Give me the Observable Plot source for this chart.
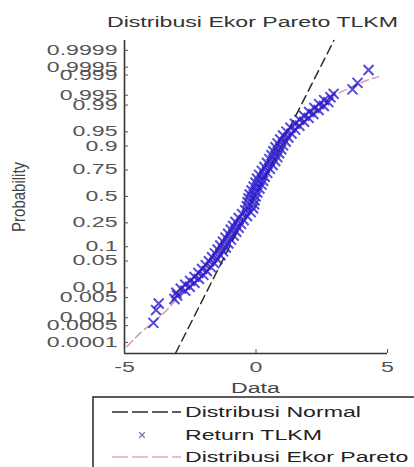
<!DOCTYPE html>
<html><head><meta charset="utf-8">
<script src="https://cdn.jsdelivr.net/npm/d3@7"></script>
<script src="https://cdn.jsdelivr.net/npm/@observablehq/plot@0.6"></script>
<style>
html,body{margin:0;padding:0;background:#fff;}
svg text{font-family:"Liberation Sans",Arial,sans-serif;}
</style></head><body><div id="chart"></div>
<script>
// ---- texts ----
const title = "Distribusi Ekor Pareto TLKM";
const xLabel = "Data";
const yLabel = "Probability";
const legendLabels = ["Distribusi Normal", "Return TLKM", "Distribusi Ekor Pareto"];
// ---- ticks ----
const xTicks = [-5, 0, 5];
const yTickP = [0.0001, 0.0005, 0.001, 0.005, 0.01, 0.05, 0.1, 0.25, 0.5, 0.75, 0.9, 0.95, 0.99, 0.995, 0.999, 0.9995, 0.9999];
const yTickLabels = ["0.0001", "0.0005", "0.001", "0.005", "0.01", "0.05", "0.1", "0.25", "0.5", "0.75", "0.9", "0.95", "0.99", "0.995", "0.999", "0.9995", "0.9999"];
const xLimits = [-5, 5];
const yLimitsProbit = [-4.0, 3.97];
// ---- fitted normal ----
const normalMu = -0.04;
const normalSigma = 0.756;
// ---- Pareto-tail distribution curve (x, cumulative probability) ----
const paretoX = [-4.9, -4.4, -3.9, -3.4, -3.0, -2.7, -2.3, -2.0, -1.5, -1.0, -0.6, -0.3, -0.15, 0.0, 0.4, 0.75, 1.1, 1.5, 1.9, 2.4, 2.8, 3.3, 3.8, 4.2, 4.66];
const paretoP = [0.000067, 0.00025, 0.00069, 0.00187, 0.0047, 0.0099, 0.0179, 0.0287, 0.0643, 0.1539, 0.2743, 0.352, 0.5, 0.5793, 0.758, 0.8643, 0.9332, 0.9633, 0.9783, 0.9887, 0.99379, 0.99632, 0.99774, 0.99841, 0.99886];
// ---- Return TLKM (sorted returns, plotting probability) ----
const returnX = [-3.9, -3.8, -3.7, -3.1, -3.0,
 -3.03, -2.69, -2.86, -2.52, -2.69, -2.34, -2.51, -2.17, -2.34, -2.00,
 -2.19, -1.87, -2.05, -1.72, -1.91, -1.59, -1.79, -1.47, -1.67, -1.35,
 -1.56, -1.25, -1.46, -1.15, -1.36, -1.05, -1.26, -0.95, -1.16, -0.85,
 -1.06, -0.75, -0.96, -0.66, -0.87, -0.57, -0.78, -0.47, -0.66, -0.34,
 -0.53, -0.20, -0.41, -0.11, -0.35, -0.07, -0.32, -0.05, -0.29, -0.01,
 -0.24, 0.05, -0.17, 0.13, -0.09, 0.21, -0.02, 0.27, 0.04, 0.33,
 0.12, 0.43, 0.22, 0.53, 0.32, 0.63, 0.42, 0.73, 0.51, 0.81,
 0.59, 0.88, 0.66, 0.96, 0.74, 1.03, 0.82, 1.13, 0.92, 1.23,
 1.03, 1.35, 1.16, 1.49, 1.31, 1.65, 1.48, 1.83, 1.65, 2.00,
 1.83, 2.18, 2.02, 2.38, 2.22, 2.58, 2.40, 2.75, 2.59,
 2.83, 2.95, 3.67, 3.86, 4.28];
const returnP = [0.00064, 0.0019, 0.0032, 0.0045, 0.0058,
 0.0071, 0.0082, 0.0094, 0.0107, 0.0122, 0.0139, 0.0158, 0.0179, 0.0202, 0.0228,
 0.0256, 0.0287, 0.0322, 0.0359, 0.0401, 0.0446, 0.0495, 0.0548, 0.0606, 0.0668,
 0.0735, 0.0808, 0.0885, 0.0968, 0.1056, 0.1151, 0.1251, 0.1357, 0.1469, 0.1587,
 0.1711, 0.1841, 0.1977, 0.2119, 0.2266, 0.2420, 0.2578, 0.2743, 0.2912, 0.3085,
 0.3264, 0.3446, 0.3632, 0.3821, 0.4013, 0.4207, 0.4404, 0.4602, 0.4801, 0.5000,
 0.5199, 0.5398, 0.5596, 0.5793, 0.5987, 0.6179, 0.6368, 0.6554, 0.6736, 0.6915,
 0.7088, 0.7257, 0.7422, 0.7580, 0.7734, 0.7881, 0.8023, 0.8159, 0.8289, 0.8413,
 0.8531, 0.8643, 0.8749, 0.8849, 0.8944, 0.9032, 0.9115, 0.9192, 0.9265, 0.9332,
 0.9394, 0.9452, 0.9505, 0.9554, 0.9599, 0.9641, 0.9678, 0.9713, 0.9744, 0.9772,
 0.9798, 0.9821, 0.9842, 0.9861, 0.9878, 0.9893, 0.9906, 0.9918, 0.9929,
 0.99423, 0.9955, 0.99679, 0.99808, 0.99936];

// inverse standard normal CDF (Acklam)
function probit(p) {
  const a = [-3.969683028665376e+01, 2.209460984245205e+02, -2.759285104469687e+02, 1.383577518672690e+02, -3.066479806614716e+01, 2.506628277459239e+00];
  const b = [-5.447609879822406e+01, 1.615858368580409e+02, -1.556989798598866e+02, 6.680131188771972e+01, -1.328068155288572e+01];
  const c = [-7.784894002430293e-03, -3.223964580411365e-01, -2.400758277161838e+00, -2.549732539343734e+00, 4.374664141464968e+00, 2.938163982698783e+00];
  const d = [7.784695709041462e-03, 3.224671290700398e-01, 2.445134137142996e+00, 3.754408661907416e+00];
  const pl = 0.02425, ph = 1 - pl;
  let q, r;
  if (p < pl) { q = Math.sqrt(-2 * Math.log(p)); return (((((c[0]*q+c[1])*q+c[2])*q+c[3])*q+c[4])*q+c[5]) / ((((d[0]*q+d[1])*q+d[2])*q+d[3])*q+1); }
  if (p > ph) { q = Math.sqrt(-2 * Math.log(1 - p)); return -(((((c[0]*q+c[1])*q+c[2])*q+c[3])*q+c[4])*q+c[5]) / ((((d[0]*q+d[1])*q+d[2])*q+d[3])*q+1); }
  q = p - 0.5; r = q * q;
  return (((((a[0]*r+a[1])*r+a[2])*r+a[3])*r+a[4])*r+a[5])*q / (((((b[0]*r+b[1])*r+b[2])*r+b[3])*r+b[4])*r+1);
}

const ret = returnX.map((x, i) => ({x, z: probit(returnP[i])}));
const par = paretoX.map((x, i) => ({x, z: probit(paretoP[i])}));
const nrm = yLimitsProbit.map(z => ({x: normalMu + normalSigma * z, z}));
const tickZ = yTickP.map(probit);
const labelByZ = new Map(tickZ.map((z, i) => [z, yTickLabels[i]]));

const W = 414, H = 467;
const plot = Plot.plot({
  width: W, height: H,
  marginLeft: 124, marginRight: 27, marginTop: 40, marginBottom: 114,
  style: {fontFamily: "Liberation Sans, Arial, sans-serif", fontSize: "14px", background: "white", overflow: "visible"},
  x: {domain: xLimits},
  y: {domain: yLimitsProbit},
  marks: [
    Plot.line(nrm, {x: "x", y: "z", stroke: "#2a2a2a", strokeWidth: 1.5, strokeDasharray: "9,5"}),
    Plot.line(par, {x: "x", y: "z", stroke: "#d49ab8", strokeWidth: 1.5, strokeDasharray: "8,4", curve: "monotone-x"}),
    Plot.dot(ret, {x: "x", y: "z", symbol: "times", r: 4.6, stroke: "#2a1ccc", strokeWidth: 2, strokeOpacity: 0.8}),
    Plot.ruleX([xLimits[0]], {stroke: "#333", strokeWidth: 1.6}),
    Plot.ruleY([yLimitsProbit[0]], {stroke: "#333", strokeWidth: 1.6}),
    Plot.axisY(tickZ, {tickSize: -4, tickPadding: 11, tickFormat: z => labelByZ.get(z), color: "#555", label: null}),
    Plot.axisX(xTicks, {tickSize: -4, tickPadding: 13, tickFormat: d => String(d), color: "#555", label: null})
  ]
});
document.getElementById("chart").append(plot);

const svg = d3.select(plot);
const xs = plot.scale("x"), ys = plot.scale("y");
const cx = (xs.apply(xLimits[0]) + xs.apply(xLimits[1])) / 2;
const bottom = ys.apply(yLimitsProbit[0]);

svg.append("text").attr("x", cx - 3).attr("y", 27)
  .attr("text-anchor", "middle").attr("fill", "#333").style("font-size", "14px").text(title);
svg.append("text").attr("x", cx).attr("y", bottom + 40)
  .attr("text-anchor", "middle").attr("fill", "#444").style("font-size", "14px").text(xLabel);
svg.append("text").attr("transform", `translate(25,${ys.apply(0) + 1}) scale(1.4,1) rotate(-90)`)
  .attr("text-anchor", "middle").attr("fill", "#444").style("font-size", "13px")
  .attr("textLength", 70).attr("lengthAdjust", "spacingAndGlyphs").text(yLabel);

// legend
const lg = svg.append("g");
lg.append("rect").attr("x", 93).attr("y", 397).attr("width", 400).attr("height", 120)
  .attr("fill", "white").attr("stroke", "#333").attr("stroke-width", 1.6);
const rowY = [412, 435, 457];
lg.append("line").attr("x1", 112).attr("x2", 181).attr("y1", rowY[0]).attr("y2", rowY[0])
  .attr("stroke", "#2a2a2a").attr("stroke-width", 1.5).attr("stroke-dasharray", "16,4");
lg.append("path").attr("d", d3.symbol(d3.symbolTimes, 22)()).attr("transform", `translate(142,${rowY[1]})`)
  .attr("fill", "none").attr("stroke", "#7070b0").attr("stroke-width", 1.2);
lg.append("line").attr("x1", 112).attr("x2", 181).attr("y1", rowY[2]).attr("y2", rowY[2])
  .attr("stroke", "#e0a8c0").attr("stroke-width", 1.5).attr("stroke-dasharray", "16,4");
legendLabels.forEach((t, i) => {
  lg.append("text").attr("x", 185).attr("y", rowY[i] + 5)
    .attr("text-anchor", "start").attr("fill", "#222").style("font-size", "14px").text(t);
});

// horizontally widen text to match the reference's wide lettering
plot.querySelectorAll("text").forEach(el => {
  if (el.getAttribute("textLength")) return;
  const len = el.getComputedTextLength();
  if (len > 0) {
    el.setAttribute("textLength", (len * 1.65).toFixed(1));
    el.setAttribute("lengthAdjust", "spacingAndGlyphs");
  }
});
</script></body></html>
